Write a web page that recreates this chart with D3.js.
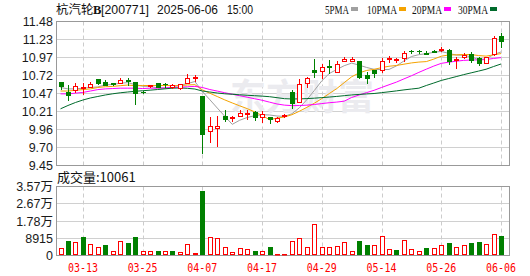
<!DOCTYPE html>
<html>
<head>
<meta charset="utf-8">
<script src="https://cdn.jsdelivr.net/npm/d3@7"></script>
<style>
body { margin: 0; background: #fff; }
svg text { font-family: "Liberation Sans", Arial, sans-serif; }
</style>
</head>
<body>
<script>
// datos (60 sesiones)
var fechas = ["03-10","03-11","03-12","03-13","03-14","03-17","03-18","03-19","03-20","03-21",
    "03-24","03-25","03-26","03-27","03-28","03-31","04-01","04-02","04-03","04-07",
    "04-08","04-09","04-10","04-11","04-14","04-15","04-16","04-17","04-18","04-21",
    "04-22","04-23","04-24","04-25","04-28","04-29","04-30","05-06","05-07","05-08",
    "05-09","05-12","05-13","05-14","05-15","05-16","05-19","05-20","05-21","05-22",
    "05-23","05-26","05-27","05-28","05-29","05-30","06-03","06-04","06-05","06-06"];

var apertura = [10.63,10.48,10.52,10.54,10.55,10.67,10.63,10.62,10.62,10.66,
    10.63,10.49,10.57,10.62,10.605,10.56,10.54,10.62,10.68,10.43,
    9.94,9.98,10.15,10.12,10.15,10.18,10.20,10.13,10.14,10.075,
    10.15,10.48,10.34,10.62,10.80,10.78,10.85,10.77,10.92,10.93,
    10.92,10.72,10.79,10.79,10.95,10.94,10.97,11.07,11.07,11.035,
    11.06,11.08,11.085,10.94,10.98,11.025,10.96,10.90,11.015,11.28];

var maximo = [10.63,10.58,10.62,10.62,10.63,10.67,10.66,10.62,10.69,10.68,
    10.63,10.50,10.59,10.62,10.61,10.60,10.60,10.74,10.72,10.43,
    10.14,10.15,10.23,10.15,10.23,10.23,10.22,10.22,10.14,10.14,
    10.17,10.51,10.67,10.70,10.95,10.88,10.94,10.92,10.98,10.98,
    10.92,10.77,10.79,10.96,10.99,10.96,11.06,11.085,11.075,11.07,
    11.08,11.12,11.09,10.98,11.04,11.05,10.98,10.98,11.28,11.32];

var minimo = [10.53,10.38,10.48,10.46,10.55,10.60,10.58,10.59,10.61,10.59,
    10.32,10.47,10.55,10.55,10.55,10.54,10.53,10.61,10.64,9.62,
    9.78,9.73,10.08,10.08,10.15,10.11,10.09,10.07,10.05,10.07,
    10.14,10.26,10.34,10.55,10.70,10.68,10.75,10.77,10.92,10.93,
    10.69,10.62,10.70,10.77,10.91,10.91,10.92,11.04,11.04,11.02,
    11.05,11.06,10.88,10.82,10.96,10.91,10.87,10.90,11.01,11.12];

var cierre = [10.57,10.45,10.57,10.56,10.60,10.61,10.59,10.60,10.65,10.645,
    10.47,10.48,10.58,10.555,10.60,10.58,10.60,10.69,10.70,9.90,
    10.00,10.01,10.11,10.13,10.19,10.19,10.14,10.18,10.11,10.12,
    10.16,10.33,10.60,10.68,10.77,10.84,10.845,10.88,10.95,10.95,
    10.70,10.68,10.75,10.93,10.96,10.95,11.03,11.06,11.065,11.025,
    11.05,11.09,10.92,10.95,11.01,10.94,10.89,10.98,11.245,11.20];

var cierrePrevio = 10.55;

var volumen = [3780,7750,6890,9470,6030,4650,5170,2580,7750,6370,
    9470,2070,2070,2240,2580,2580,1720,6030,1380,33080,
    9470,9130,4310,1720,3960,3450,2070,2580,4650,520,
    860,7750,9130,4650,16370,4650,4650,5000,6720,2580,
    7240,5680,5170,10180,3450,2930,8100,3450,2070,3790,
    3960,5680,6370,4650,5170,6370,6890,6030,11200,10061];

var ma5 = [10.55,10.53,10.53,10.54,10.550,10.558,10.586,10.592,10.610,10.618,
    10.590,10.568,10.564,10.545,10.537,10.559,10.583,10.605,10.634,10.494,
    10.378,10.260,10.144,10.030,10.088,10.126,10.152,10.166,10.162,10.148,
    10.142,10.180,10.264,10.378,10.508,10.644,10.747,10.803,10.857,10.893,
    10.865,10.832,10.806,10.802,10.804,10.854,10.924,10.986,11.013,11.026,
    11.046,11.058,11.030,11.007,11.004,10.982,10.942,10.954,11.013,11.051];

var ma10 = [10.50,10.50,10.51,10.52,10.53,10.55,10.56,10.565,10.575,10.584,
    10.574,10.577,10.578,10.578,10.578,10.575,10.576,10.585,10.590,10.516,
    10.469,10.422,10.375,10.332,10.291,10.252,10.206,10.155,10.096,10.118,
    10.134,10.166,10.215,10.270,10.328,10.393,10.464,10.534,10.618,10.701,
    10.755,10.790,10.805,10.830,10.849,10.860,10.878,10.896,10.908,10.915,
    10.950,10.991,11.008,11.010,11.015,11.014,11.000,10.992,11.010,11.028];

var ma20 = [10.46,10.46,10.47,10.48,10.50,10.52,10.53,10.535,10.54,10.54,
    10.54,10.535,10.54,10.54,10.545,10.55,10.555,10.56,10.565,10.550,
    10.521,10.499,10.476,10.455,10.434,10.413,10.391,10.370,10.343,10.317,
    10.301,10.294,10.295,10.301,10.310,10.323,10.335,10.344,10.357,10.409,
    10.444,10.478,10.510,10.550,10.588,10.626,10.671,10.715,10.763,10.808,
    10.852,10.890,10.906,10.920,10.932,10.937,10.939,10.944,10.959,10.971];

var ma30 = [10.249,10.296,10.338,10.373,10.402,10.423,10.444,10.461,10.475,10.486,
    10.496,10.504,10.512,10.521,10.531,10.540,10.543,10.538,10.528,10.500,
    10.486,10.472,10.461,10.454,10.447,10.440,10.434,10.428,10.420,10.406,
    10.392,10.388,10.389,10.393,10.399,10.407,10.415,10.424,10.434,10.445,
    10.452,10.459,10.465,10.477,10.489,10.502,10.516,10.528,10.540,10.578,
    10.613,10.649,10.676,10.703,10.731,10.756,10.781,10.807,10.845,10.881];

var ticksFecha = ["03-13","03-25","04-07","04-17","04-29","05-14","05-26","06-06"];
var ticksPrecio = [9.45, 9.70, 9.96, 10.21, 10.47, 10.72, 10.97, 11.23, 11.48];
var ticksVolumen = [0, 8915, 17830, 26745, 35660];

var nombresMA = ["5PMA", "10PMA", "20PMA", "30PMA"];
var seriesMA = [ma5, ma10, ma20, ma30];
var coloresMA = ["#a0a0a0", "#f5a300", "#ff00ff", "#006b2c"];

var width = 530;
var height = 276;
var rojo = "#ff0000";
var verde = "#008000";

var svg = d3.select("body")
    .append("svg")
    .attr("width", width)
    .attr("height", height);

var escalaX = d3.scalePoint()
    .domain(fechas)
    .range([60.5, 501]);

var escalaY = d3.scaleLinear()
    .domain([9.45, 11.48])
    .range([165.5, 21.5]);

var escalaVol = d3.scaleLinear()
    .domain([0, 35660])
    .range([255.5, 186.5]);

var izq = 56.5, der = 509.5;

// rejilla horizontal precio
svg.append("g")
    .selectAll("line")
    .data(ticksPrecio)
    .join("line")
    .attr("x1", izq).attr("x2", der)
    .attr("y1", d => Math.round(escalaY(d) - 0.5) + 0.5)
    .attr("y2", d => Math.round(escalaY(d) - 0.5) + 0.5)
    .attr("stroke", "#d0d0d0");

svg.append("g")
    .selectAll("line")
    .data(ticksVolumen)
    .join("line")
    .attr("x1", izq).attr("x2", der)
    .attr("y1", d => Math.round(escalaVol(d) - 0.5) + 0.5)
    .attr("y2", d => Math.round(escalaVol(d) - 0.5) + 0.5)
    .attr("stroke", "#d0d0d0");

// rejilla vertical discontinua
[[21.5, 165.5], [186.5, 255.5]].forEach(function (r) {
    svg.append("g")
        .selectAll("line")
        .data(ticksFecha)
        .join("line")
        .attr("x1", d => Math.round(escalaX(d)) + 0.5)
        .attr("x2", d => Math.round(escalaX(d)) + 0.5)
        .attr("y1", r[0]).attr("y2", r[1])
        .attr("stroke", "#cccccc")
        .attr("stroke-dasharray", "4,3");
});

// marca de agua
svg.append("text")
    .attr("x", 230)
    .attr("y", 110)
    .attr("fill", "#ebebef")
    .style("font-family", "'Noto Sans CJK SC'")
    .style("font-size", "36px")
    .style("font-weight", "bold")
    .text("东方财富");

// bordes
[[21.5, 165.5], [186.5, 255.5]].forEach(function (r) {
    svg.append("rect")
        .attr("x", izq).attr("y", r[0])
        .attr("width", der - izq).attr("height", r[1] - r[0])
        .attr("fill", "none")
        .attr("stroke", "#999999");
});

// medias moviles
seriesMA.forEach(function (serie, k) {
    var linea = d3.line()
        .x(function (d, i) { return escalaX(fechas[i]); })
        .y(function (d) { return escalaY(d); });
    svg.append("path")
        .datum(serie)
        .attr("d", linea)
        .attr("fill", "none")
        .attr("stroke", coloresMA[k])
        .attr("stroke-width", 1);
});

// velas
var indices = d3.range(fechas.length);
var gVelas = svg.append("g");
indices.forEach(function (i) {
    var cx = Math.round(escalaX(fechas[i]));
    var sube = cierre[i] >= apertura[i];
    var color = sube ? rojo : verde;
    var yA = escalaY(apertura[i]), yC = escalaY(cierre[i]);
    var top = Math.round(Math.min(yA, yC)), bot = Math.round(Math.max(yA, yC));
    gVelas.append("line")
        .attr("x1", cx + 0.5).attr("x2", cx + 0.5)
        .attr("y1", Math.round(escalaY(maximo[i])))
        .attr("y2", Math.round(escalaY(minimo[i])) + 1)
        .attr("stroke", color);
    if (bot - top < 1) {
        gVelas.append("line")
            .attr("x1", cx - 2).attr("x2", cx + 3)
            .attr("y1", top + 0.5).attr("y2", top + 0.5)
            .attr("stroke", color);
    } else if (sube) {
        gVelas.append("rect")
            .attr("x", cx - 1.5).attr("y", top + 0.5)
            .attr("width", 4).attr("height", bot - top)
            .attr("fill", "#fff").attr("stroke", rojo);
    } else {
        gVelas.append("rect")
            .attr("x", cx - 2).attr("y", top)
            .attr("width", 5).attr("height", bot - top + 1)
            .attr("fill", verde);
    }
});

// volumen
var gVol = svg.append("g");
indices.forEach(function (i) {
    var cx = Math.round(escalaX(fechas[i]));
    var anterior = i === 0 ? cierrePrevio : cierre[i - 1];
    var sube = cierre[i] >= anterior;
    var yv = Math.round(escalaVol(volumen[i]));
    if (sube) {
        gVol.append("rect")
            .attr("x", cx - 1.5).attr("y", yv + 0.5)
            .attr("width", 4).attr("height", Math.max(255 - yv - 1, 0.5))
            .attr("fill", "#fff").attr("stroke", rojo);
    } else {
        gVol.append("rect")
            .attr("x", cx - 2).attr("y", yv)
            .attr("width", 5).attr("height", 255 - yv)
            .attr("fill", verde);
    }
});

// etiquetas eje Y
svg.append("g")
    .selectAll("text")
    .data(ticksPrecio)
    .join("text")
    .attr("x", 53)
    .attr("y", d => escalaY(d))
    .attr("dy", "0.36em")
    .attr("text-anchor", "end")
    .attr("fill", "#1a1a1a")
    .style("font-size", "12.5px")
    .text(d => d.toFixed(2));

svg.append("g")
    .selectAll("text")
    .data(ticksVolumen)
    .join("text")
    .attr("x", 53)
    .attr("y", d => escalaVol(d))
    .attr("dy", "0.36em")
    .attr("text-anchor", "end")
    .attr("fill", "#1a1a1a")
    .style("font-size", "12.5px")
    .style("font-family", "'Liberation Sans', 'Noto Sans CJK SC'")
    .text(d => d >= 10000 ? (d / 10000).toFixed(2) + "万" : d);

// etiquetas eje X
svg.append("g")
    .selectAll("text")
    .data(ticksFecha)
    .join("text")
    .attr("x", d => escalaX(d))
    .attr("y", 272)
    .attr("text-anchor", "middle")
    .attr("fill", rojo)
    .attr("textLength", 30)
    .attr("lengthAdjust", "spacingAndGlyphs")
    .style("font-family", "'DejaVu Sans Mono'")
    .style("font-size", "12.5px")
    .text(d => d);

// titulo
var titulo = svg.append("g").attr("fill", "#111");
titulo.append("text").attr("x", 56).attr("y", 14)
    .style("font-family", "'Noto Sans CJK SC'").style("font-size", "12.5px")
    .text("杭汽轮");
titulo.append("text").attr("x", 93).attr("y", 14)
    .style("font-family", "'Liberation Serif'").style("font-size", "12.5px").style("font-weight", "bold")
    .text("B");
titulo.append("text").attr("x", 101).attr("y", 14)
    .attr("textLength", 48).attr("lengthAdjust", "spacingAndGlyphs")
    .style("font-size", "12.5px")
    .text("[200771]");
titulo.append("text").attr("x", 157).attr("y", 14)
    .attr("textLength", 61).attr("lengthAdjust", "spacingAndGlyphs")
    .style("font-size", "12.5px")
    .text("2025-06-06");
titulo.append("text").attr("x", 227).attr("y", 14)
    .attr("textLength", 26).attr("lengthAdjust", "spacingAndGlyphs")
    .style("font-size", "12.5px")
    .text("15:00");

// leyenda
var posLeyenda = [325, 367, 412, 458];
nombresMA.forEach(function (nombre, k) {
    var ancho = nombre.length * 6;
    svg.append("text")
        .attr("x", posLeyenda[k]).attr("y", 14)
        .attr("fill", "#111")
        .attr("textLength", ancho).attr("lengthAdjust", "spacingAndGlyphs")
        .style("font-family", "'Liberation Serif'")
        .style("font-size", "13.5px")
        .text(nombre);
    svg.append("rect")
        .attr("x", posLeyenda[k] + ancho + 2).attr("y", 7)
        .attr("width", 7).attr("height", 4)
        .attr("fill", coloresMA[k]);
});

// rotulo volumen
svg.append("text")
    .attr("x", 57).attr("y", 182)
    .attr("fill", "#111")
    .style("font-family", "'Noto Sans CJK SC'")
    .style("font-size", "13px")
    .text("成交量:" + volumen[volumen.length - 1]);
</script>
</body>
</html>
